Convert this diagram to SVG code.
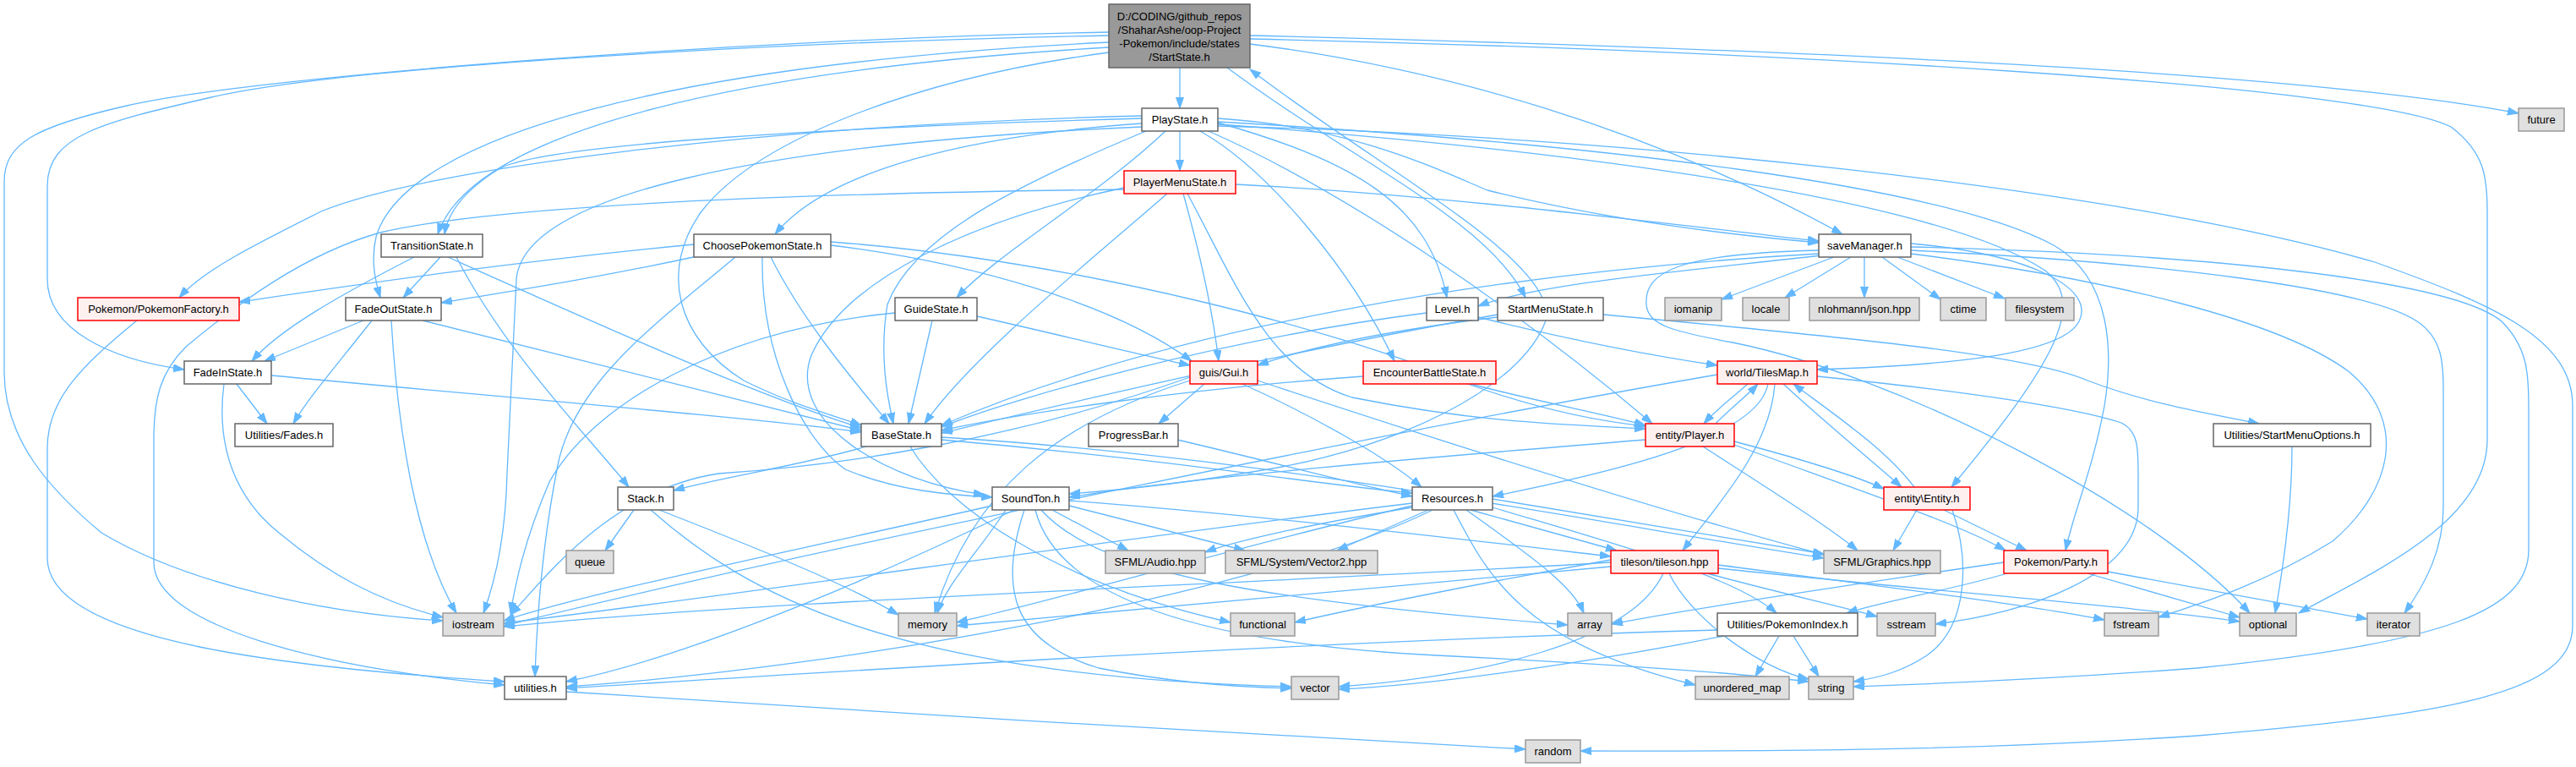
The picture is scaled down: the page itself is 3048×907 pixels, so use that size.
<svg xmlns="http://www.w3.org/2000/svg" width="3048" height="907" viewBox="0 0 3048 907">
<defs>
<marker id="a" markerWidth="14" markerHeight="10" refX="13" refY="4.5" orient="auto" markerUnits="userSpaceOnUse"><path d="M0,0 L13,4.5 L0,9 z" fill="#63b8ff" stroke="#63b8ff" stroke-width="1"/></marker>
</defs>
<style>
.e{fill:none;stroke:#63b8ff;stroke-width:1.3;marker-end:url(#a)}
.n rect{fill:#ffffff;stroke:#666666;stroke-width:1.5}
.g rect{fill:#e0e0e0;stroke:#999999;stroke-width:1.5}
.r rect{fill:#fff0f0;stroke:#ff0000;stroke-width:1.5}
.root rect{fill:#999999;stroke:#666666;stroke-width:1.5}
text{font-family:"Liberation Sans",Arial,sans-serif;font-size:13px;fill:#000000;text-anchor:middle}
</style>
<rect width="3048" height="907" fill="#ffffff"/>
<g id="edges">
<path class="e" d="M1396,80 L1396,128"/>
<path class="e" d="M1312,56 C900,80 560,150 518,277"/>
<path class="e" d="M1312,50 C800,75 480,160 445,280 C438,310 445,335 450,352"/>
<path class="e" d="M1312,42 C900,50 400,80 250,115 C120,145 56,160 56,220 L56,330 C56,390 130,425 218,437"/>
<path class="e" d="M1312,38 C900,45 300,90 150,125 C40,150 5,170 5,215 L5,440 C5,520 60,580 120,630 C220,690 380,725 524,734"/>
<path class="e" d="M1312,62 C1100,90 900,160 830,250 C780,320 800,400 880,450 C940,480 990,492 1019,503"/>
<path class="e" d="M1479,52 C1700,80 1950,150 2180,277"/>
<path class="e" d="M1452,80 C1600,190 1760,260 1805,352"/>
<path class="e" d="M1825,352 C1790,280 1620,190 1479,82"/>
<path class="e" d="M1479,42 C2000,55 2700,80 2980,134"/>
<path class="e" d="M1479,46 C2100,60 2800,100 2900,150 C2940,180 2943,210 2943,250 L2943,520 C2943,620 2800,680 2720,725"/>
<path class="e" d="M1396,155 L1396,202"/>
<path class="e" d="M1351,140 C1000,150 640,170 590,200 C550,225 530,250 526,277"/>
<path class="e" d="M1351,137 C900,148 500,200 380,250 C300,290 240,320 212,352"/>
<path class="e" d="M1351,146 C1150,160 980,200 917,277"/>
<path class="e" d="M1379,155 C1300,230 1180,300 1132,352"/>
<path class="e" d="M1356,155 C1200,220 1080,280 1050,360 C1040,420 1050,470 1057,501"/>
<path class="e" d="M1441,140 C1600,150 1700,200 1760,225 C1900,260 2050,278 2152,287"/>
<path class="e" d="M1441,145 C1600,190 1690,240 1712,352"/>
<path class="e" d="M1420,155 C1500,200 1600,320 1650,427"/>
<path class="e" d="M1430,155 C1600,230 1800,370 1955,501"/>
<path class="e" d="M1351,150 C900,170 620,230 611,330 L600,560 C598,640 585,690 572,725"/>
<path class="e" d="M1441,144 C1900,170 2300,220 2430,290 C2500,330 2500,420 2490,480 C2475,560 2455,600 2444,651"/>
<path class="e" d="M1441,147 C1900,180 2300,240 2420,320 C2470,360 2430,430 2309,576"/>
<path class="e" d="M1441,149 C1900,160 2500,220 2810,310 C2950,360 3044,400 3044,480 L3044,740 C3044,820 2900,845 2600,870 C2300,890 2050,888 1870,888"/>
<path class="e" d="M1462,218 C1700,230 1950,262 2152,285"/>
<path class="e" d="M1400,229 C1420,300 1435,370 1442,427"/>
<path class="e" d="M1381,229 C1300,300 1150,420 1094,501"/>
<path class="e" d="M1405,229 C1460,330 1500,440 1600,470 C1750,500 1850,502 1947,507"/>
<path class="e" d="M1330,224 C1000,228 600,240 450,275 C360,300 280,360 220,410 C190,440 182,470 182,520 L182,665 C182,740 380,790 597,810"/>
<path class="e" d="M1330,222 C1150,260 1000,330 960,420 C930,500 1050,570 1165,585"/>
<path class="e" d="M821,289 C600,310 400,340 283,357"/>
<path class="e" d="M830,302 C700,330 600,345 522,358"/>
<path class="e" d="M912,304 C950,380 1010,450 1052,501"/>
<path class="e" d="M870,304 C780,380 680,450 660,550 C640,650 635,740 633,800"/>
<path class="e" d="M983,290 C1150,310 1320,360 1410,427"/>
<path class="e" d="M983,286 C1300,310 1600,400 1700,440 C1800,480 1880,497 1947,504"/>
<path class="e" d="M902,304 C900,420 950,520 1000,555 C1060,580 1120,585 1174,588"/>
<path class="e" d="M521,304 L477,352"/>
<path class="e" d="M490,304 C400,350 330,390 298,427"/>
<path class="e" d="M530,304 C700,380 900,470 1019,506"/>
<path class="e" d="M540,304 C600,420 700,520 744,576"/>
<path class="e" d="M430,379 L313,427"/>
<path class="e" d="M440,379 C400,430 365,470 347,501"/>
<path class="e" d="M463,379 C470,500 490,640 540,725"/>
<path class="e" d="M500,379 C700,430 900,480 1019,509"/>
<path class="e" d="M280,454 L316,501"/>
<path class="e" d="M265,454 C255,530 280,590 330,630 C390,680 450,712 524,730"/>
<path class="e" d="M321,444 C600,470 900,495 1019,511"/>
<path class="e" d="M162,379 C100,430 56,470 56,530 L56,660 C56,760 350,790 597,806"/>
<path class="e" d="M1103,379 L1075,501"/>
<path class="e" d="M1156,374 C1250,395 1350,420 1408,432"/>
<path class="e" d="M1059,370 C850,390 700,480 650,570 C620,640 610,690 604,725"/>
<path class="e" d="M1749,375 C1850,400 1950,420 2032,432"/>
<path class="e" d="M1688,370 C1450,400 1200,470 1114,505"/>
<path class="e" d="M1772,375 C1650,390 1550,410 1488,432"/>
<path class="e" d="M1772,372 C1500,420 1250,480 1114,512"/>
<path class="e" d="M1829,379 C1800,460 1650,530 1500,555 C1400,572 1320,580 1265,584"/>
<path class="e" d="M1897,372 C2200,400 2400,420 2470,450 C2550,480 2620,490 2673,501"/>
<path class="e" d="M2170,304 L2037,354"/>
<path class="e" d="M2190,304 L2112,352"/>
<path class="e" d="M2206,304 L2206,352"/>
<path class="e" d="M2227,304 L2296,354"/>
<path class="e" d="M2245,304 L2372,353"/>
<path class="e" d="M2155,302 C2000,320 1820,335 1749,362"/>
<path class="e" d="M2152,300 C1800,320 1400,380 1114,503"/>
<path class="e" d="M2261,292 C2600,300 2900,330 2960,380 C2990,410 2992,440 2992,480 L2992,650 C2992,720 2900,760 2600,790 C2400,805 2250,810 2193,812"/>
<path class="e" d="M2261,296 C2550,310 2800,340 2860,380 C2890,400 2891,430 2891,460 L2891,600 C2891,650 2870,690 2845,725"/>
<path class="e" d="M2261,300 C2500,330 2700,380 2780,440 C2850,500 2830,580 2760,640 C2680,690 2600,715 2554,730"/>
<path class="e" d="M2261,288 C2400,300 2480,340 2460,380 C2440,420 2300,432 2150,437"/>
<path class="e" d="M2152,296 C1990,300 1945,320 1948,360 C1950,385 1980,392 2050,405 C2250,445 2550,600 2662,725"/>
<path class="e" d="M1425,454 L1371,501"/>
<path class="e" d="M1470,454 C1550,490 1640,540 1682,576"/>
<path class="e" d="M1488,450 C1700,520 1950,600 2158,656"/>
<path class="e" d="M1408,450 C1250,500 1150,580 1106,725"/>
<path class="e" d="M1408,446 C1200,520 1000,550 850,560 C720,580 640,690 604,727"/>
<path class="e" d="M1025,528 C950,550 850,565 797,580"/>
<path class="e" d="M1114,520 C1400,545 1550,572 1671,583"/>
<path class="e" d="M1077,528 C1120,600 1250,690 1456,736"/>
<path class="e" d="M1114,517 C1500,540 1900,620 2158,660"/>
<path class="e" d="M1393,520 C1500,545 1600,572 1671,587"/>
<path class="e" d="M750,603 L716,651"/>
<path class="e" d="M780,603 C900,650 1000,690 1063,727"/>
<path class="e" d="M770,603 C880,700 1050,800 1528,812"/>
<path class="e" d="M1245,603 L1335,651"/>
<path class="e" d="M1265,598 L1473,651"/>
<path class="e" d="M1190,603 C1160,650 1120,690 1109,725"/>
<path class="e" d="M1174,598 C900,660 700,700 596,734"/>
<path class="e" d="M1200,603 C1000,700 800,780 670,806"/>
<path class="e" d="M1212,603 C1180,700 1200,760 1300,790 C1400,810 1480,813 1528,814"/>
<path class="e" d="M1225,603 C1250,700 1400,760 1700,775 C1900,785 2050,795 2140,806"/>
<path class="e" d="M1232,603 C1300,680 1500,710 1855,739"/>
<path class="e" d="M1265,592 C1500,610 1750,640 1906,658"/>
<path class="e" d="M1690,603 L1582,651"/>
<path class="e" d="M1671,600 C1550,620 1460,640 1426,653"/>
<path class="e" d="M1740,603 L1913,651"/>
<path class="e" d="M1766,590 C1950,620 2100,645 2158,655"/>
<path class="e" d="M1735,603 C1800,650 1860,690 1874,725"/>
<path class="e" d="M1720,603 C1760,680 1800,760 2006,810"/>
<path class="e" d="M1671,598 C1450,650 1250,710 1132,736"/>
<path class="e" d="M1671,595 C1300,640 900,700 596,737"/>
<path class="e" d="M1695,603 C1500,700 1000,790 670,812"/>
<path class="e" d="M1766,600 C1900,640 2050,680 2102,725"/>
<path class="e" d="M2068,454 C2050,470 2030,485 2016,501"/>
<path class="e" d="M2030,501 C2045,485 2065,470 2080,454"/>
<path class="e" d="M2110,454 C2160,500 2215,545 2250,576"/>
<path class="e" d="M2265,576 C2230,530 2170,490 2122,454"/>
<path class="e" d="M2092,454 C2080,520 1900,560 1766,587"/>
<path class="e" d="M2100,454 C2095,530 2030,600 1991,651"/>
<path class="e" d="M2032,443 C1700,500 1000,640 596,740"/>
<path class="e" d="M2150,445 C2300,460 2450,480 2510,500 C2530,510 2530,530 2530,560 L2530,600 C2530,680 2400,725 2290,738"/>
<path class="e" d="M1947,520 C1700,540 1400,565 1265,588"/>
<path class="e" d="M2052,522 C2120,540 2190,560 2229,578"/>
<path class="e" d="M2015,528 C2080,570 2160,620 2198,651"/>
<path class="e" d="M2052,526 C2200,580 2320,620 2373,651"/>
<path class="e" d="M2268,603 L2240,651"/>
<path class="e" d="M2300,603 L2398,651"/>
<path class="e" d="M2310,603 C2330,660 2330,740 2280,775 C2250,795 2220,802 2193,806"/>
<path class="e" d="M1906,665 C1500,690 900,710 596,741"/>
<path class="e" d="M1906,670 C1600,700 1300,725 1132,740"/>
<path class="e" d="M1906,662 C1750,690 1600,720 1532,736"/>
<path class="e" d="M1968,678 C1930,760 1750,800 1584,812"/>
<path class="e" d="M1975,678 C2000,730 2080,790 2140,803"/>
<path class="e" d="M2020,678 C2100,700 2170,715 2221,729"/>
<path class="e" d="M2033,668 C2200,690 2400,715 2490,733"/>
<path class="e" d="M2033,672 C2300,700 2550,720 2650,735"/>
<path class="e" d="M2105,752 L2077,800"/>
<path class="e" d="M2122,752 L2152,800"/>
<path class="e" d="M2032,745 C1500,760 900,800 670,814"/>
<path class="e" d="M2040,752 C1900,780 1700,810 1584,815"/>
<path class="e" d="M2470,678 L2650,730"/>
<path class="e" d="M2494,676 L2801,732"/>
<path class="e" d="M2375,678 C2300,700 2230,710 2185,725"/>
<path class="e" d="M2371,665 C2200,690 2000,720 1907,738"/>
<path class="e" d="M670,818 C1000,840 1500,870 1805,886"/>
<path class="e" d="M2712,528 C2712,600 2700,680 2692,725"/>
<path class="e" d="M1740,454 C1820,475 1900,490 1947,503"/>
<path class="e" d="M1613,445 C1400,460 1200,490 1114,509"/>
</g>
<g id="node-StartState" class="root"><rect x="1312" y="5" width="167" height="75"/><text x="1395.5" y="23.5">D:/CODING/github_repos</text><text x="1395.5" y="39.5">/ShaharAshe/oop-Project</text><text x="1395.5" y="55.5">-Pokemon/include/states</text><text x="1395.5" y="71.5">/StartState.h</text></g>
<g id="node-PlayState" class="n"><rect x="1351" y="128" width="90" height="27"/><text x="1396" y="146">PlayState.h</text></g>
<g id="node-future" class="g"><rect x="2980" y="128" width="54" height="27"/><text x="3007" y="146">future</text></g>
<g id="node-PlayerMenuState" class="r"><rect x="1330" y="202" width="132" height="27"/><text x="1396" y="220">PlayerMenuState.h</text></g>
<g id="node-TransitionState" class="n"><rect x="451" y="277" width="120" height="27"/><text x="511" y="295">TransitionState.h</text></g>
<g id="node-ChoosePokemonState" class="n"><rect x="821" y="277" width="162" height="27"/><text x="902" y="295">ChoosePokemonState.h</text></g>
<g id="node-saveManager" class="n"><rect x="2152" y="277" width="109" height="27"/><text x="2206.5" y="295">saveManager.h</text></g>
<g id="node-PokemonFactory" class="r"><rect x="92" y="352" width="191" height="27"/><text x="187.5" y="370">Pokemon/PokemonFactory.h</text></g>
<g id="node-FadeOutState" class="n"><rect x="409" y="352" width="113" height="27"/><text x="465.5" y="370">FadeOutState.h</text></g>
<g id="node-GuideState" class="n"><rect x="1059" y="352" width="97" height="27"/><text x="1107.5" y="370">GuideState.h</text></g>
<g id="node-Level" class="n"><rect x="1688" y="352" width="61" height="27"/><text x="1718.5" y="370">Level.h</text></g>
<g id="node-StartMenuState" class="n"><rect x="1772" y="352" width="125" height="27"/><text x="1834.5" y="370">StartMenuState.h</text></g>
<g id="node-iomanip" class="g"><rect x="1970" y="352" width="67" height="27"/><text x="2003.5" y="370">iomanip</text></g>
<g id="node-locale" class="g"><rect x="2062" y="352" width="55" height="27"/><text x="2089.5" y="370">locale</text></g>
<g id="node-json" class="g"><rect x="2141" y="352" width="130" height="27"/><text x="2206" y="370">nlohmann/json.hpp</text></g>
<g id="node-ctime" class="g"><rect x="2296" y="352" width="54" height="27"/><text x="2323" y="370">ctime</text></g>
<g id="node-filesystem" class="g"><rect x="2373" y="352" width="81" height="27"/><text x="2413.5" y="370">filesystem</text></g>
<g id="node-FadeInState" class="n"><rect x="218" y="427" width="103" height="27"/><text x="269.5" y="445">FadeInState.h</text></g>
<g id="node-Gui" class="r"><rect x="1408" y="427" width="80" height="27"/><text x="1448" y="445">guis/Gui.h</text></g>
<g id="node-EncounterBattleState" class="r"><rect x="1613" y="427" width="157" height="27"/><text x="1691.5" y="445">EncounterBattleState.h</text></g>
<g id="node-TilesMap" class="r"><rect x="2032" y="427" width="118" height="27"/><text x="2091" y="445">world/TilesMap.h</text></g>
<g id="node-Fades" class="n"><rect x="278" y="501" width="116" height="27"/><text x="336" y="519">Utilities/Fades.h</text></g>
<g id="node-BaseState" class="n"><rect x="1019" y="501" width="95" height="27"/><text x="1066.5" y="519">BaseState.h</text></g>
<g id="node-ProgressBar" class="n"><rect x="1288" y="501" width="106" height="27"/><text x="1341" y="519">ProgressBar.h</text></g>
<g id="node-Player" class="r"><rect x="1947" y="501" width="105" height="27"/><text x="1999.5" y="519">entity/Player.h</text></g>
<g id="node-StartMenuOptions" class="n"><rect x="2619" y="501" width="186" height="27"/><text x="2712" y="519">Utilities/StartMenuOptions.h</text></g>
<g id="node-Stack" class="n"><rect x="731" y="576" width="66" height="27"/><text x="764" y="594">Stack.h</text></g>
<g id="node-SoundTon" class="n"><rect x="1174" y="576" width="91" height="27"/><text x="1219.5" y="594">SoundTon.h</text></g>
<g id="node-Resources" class="n"><rect x="1671" y="576" width="95" height="27"/><text x="1718.5" y="594">Resources.h</text></g>
<g id="node-Entity" class="r"><rect x="2229" y="576" width="102" height="27"/><text x="2280" y="594">entity\Entity.h</text></g>
<g id="node-queue" class="g"><rect x="670" y="651" width="56" height="27"/><text x="698" y="669">queue</text></g>
<g id="node-Audio" class="g"><rect x="1308" y="651" width="118" height="27"/><text x="1367" y="669">SFML/Audio.hpp</text></g>
<g id="node-Vector2" class="g"><rect x="1450" y="651" width="180" height="27"/><text x="1540" y="669">SFML/System/Vector2.hpp</text></g>
<g id="node-tileson" class="r"><rect x="1906" y="651" width="127" height="27"/><text x="1969.5" y="669">tileson/tileson.hpp</text></g>
<g id="node-Graphics" class="g"><rect x="2158" y="651" width="138" height="27"/><text x="2227" y="669">SFML/Graphics.hpp</text></g>
<g id="node-Party" class="r"><rect x="2371" y="651" width="123" height="27"/><text x="2432.5" y="669">Pokemon/Party.h</text></g>
<g id="node-iostream" class="g"><rect x="524" y="725" width="72" height="27"/><text x="560" y="743">iostream</text></g>
<g id="node-memory" class="g"><rect x="1063" y="725" width="69" height="27"/><text x="1097.5" y="743">memory</text></g>
<g id="node-functional" class="g"><rect x="1456" y="725" width="76" height="27"/><text x="1494" y="743">functional</text></g>
<g id="node-array" class="g"><rect x="1855" y="725" width="52" height="27"/><text x="1881" y="743">array</text></g>
<g id="node-PokemonIndex" class="n"><rect x="2032" y="725" width="166" height="27"/><text x="2115" y="743">Utilities/PokemonIndex.h</text></g>
<g id="node-sstream" class="g"><rect x="2221" y="725" width="69" height="27"/><text x="2255.5" y="743">sstream</text></g>
<g id="node-fstream" class="g"><rect x="2490" y="725" width="64" height="27"/><text x="2522" y="743">fstream</text></g>
<g id="node-optional" class="g"><rect x="2650" y="725" width="67" height="27"/><text x="2683.5" y="743">optional</text></g>
<g id="node-iterator" class="g"><rect x="2801" y="725" width="62" height="27"/><text x="2832" y="743">iterator</text></g>
<g id="node-utilities" class="n"><rect x="597" y="800" width="73" height="27"/><text x="633.5" y="818">utilities.h</text></g>
<g id="node-vector" class="g"><rect x="1528" y="800" width="56" height="27"/><text x="1556" y="818">vector</text></g>
<g id="node-unordered_map" class="g"><rect x="2006" y="800" width="111" height="27"/><text x="2061.5" y="818">unordered_map</text></g>
<g id="node-string" class="g"><rect x="2140" y="800" width="53" height="27"/><text x="2166.5" y="818">string</text></g>
<g id="node-random" class="g"><rect x="1805" y="875" width="65" height="27"/><text x="1837.5" y="893">random</text></g>
</svg>
